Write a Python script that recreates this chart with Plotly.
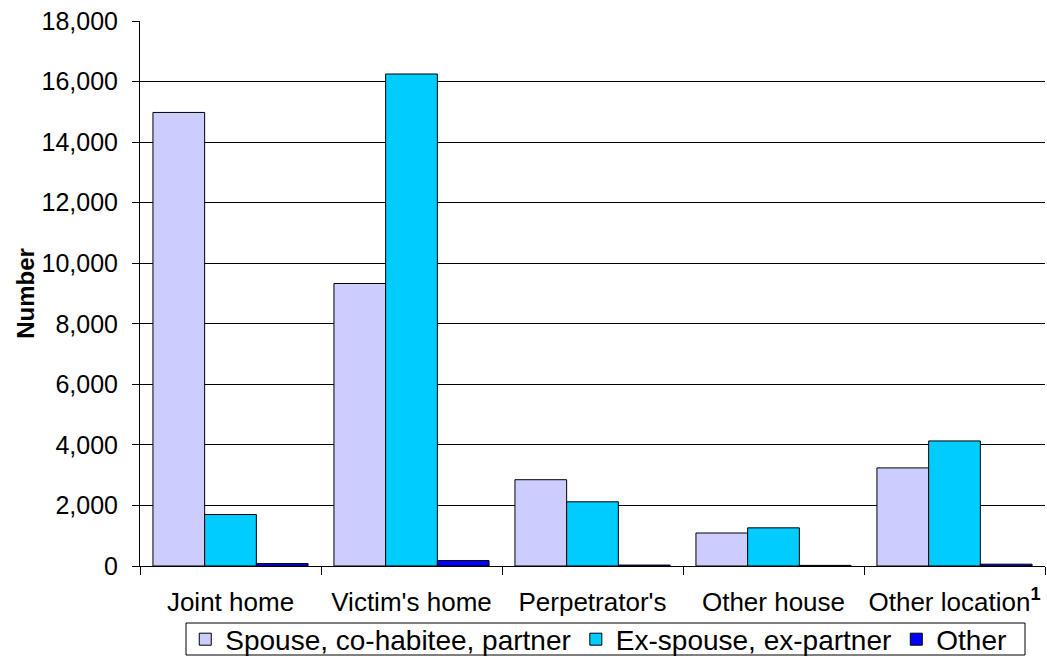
import plotly.graph_objects as go

categories = ["Joint home", "Victim's home", "Perpetrator's", "Other house", "Other location<sup><b>1</b></sup>"]
spouse = [14980, 9330, 2850, 1090, 3240]
ex_spouse = [1700, 16250, 2120, 1260, 4130]
other = [80, 180, 30, 20, 60]

series = [
    ("Spouse, co-habitee, partner", spouse, "#CCCCFF"),
    ("Ex-spouse, ex-partner", ex_spouse, "#00CCFF"),
    ("Other", other, "#0000FF"),
]

fig = go.Figure()
for name, vals, color in series:
    fig.add_trace(go.Bar(
        x=categories, y=vals, name=name,
        marker=dict(color=color, line=dict(color="#000000", width=1)),
    ))

# plot area in pixels: x 140..1045, y 21..566 (height 657)
W, H = 1047, 657
L, R, T, B = 140, 2, 21, 91
pw, ph = W - L - R, H - T - B

# legend frame drawn as a shape, tighter than the legend's own box
box_px = dict(x0=186, x1=1025, y0=623, y1=655)

font = "Liberation Sans, Arial, sans-serif"
fig.update_layout(
    width=W, height=H,
    margin=dict(l=L, r=R, t=T, b=B),
    paper_bgcolor="white", plot_bgcolor="white",
    barmode="group", bargap=0.143, bargroupgap=0,
    font=dict(family=font, size=26, color="#000000"),
    showlegend=True,
    legend=dict(
        orientation="h", x=0.05, xanchor="left",
        yref="container", y=1 - 639.5 / H, yanchor="middle",
        borderwidth=0, bgcolor="rgba(0,0,0,0)",
        font=dict(size=28), itemwidth=30,
        tracegroupgap=0,
    ),
    shapes=[dict(
        type="rect", xref="paper", yref="paper",
        x0=(box_px["x0"] - L) / pw, x1=(box_px["x1"] - L) / pw,
        y0=(H - B - box_px["y1"]) / ph, y1=(H - B - box_px["y0"]) / ph,
        line=dict(color="#000000", width=1), fillcolor="rgba(0,0,0,0)",
        layer="above",
    )],
)
fig.update_xaxes(
    showline=True, linecolor="#000000", linewidth=1,
    ticks="outside", tickson="boundaries", ticklen=8, tickcolor="#000000",
    tickfont=dict(size=26), showgrid=False, ticklabelstandoff=13,
    automargin=False,
)
fig.update_yaxes(
    range=[0, 18000], tickvals=list(range(0, 18001, 2000)), tickformat=",d",
    showline=True, linecolor="#000000", linewidth=1,
    ticks="outside", ticklen=7, tickcolor="#000000",
    showgrid=True, gridcolor="#000000", gridwidth=1,
    zeroline=False, ticklabelstandoff=9,
    title=dict(text="<b>Number</b>", font=dict(size=24), standoff=0),
    tickfont=dict(size=25), automargin=False,
)

fig.write_html("out.html")
